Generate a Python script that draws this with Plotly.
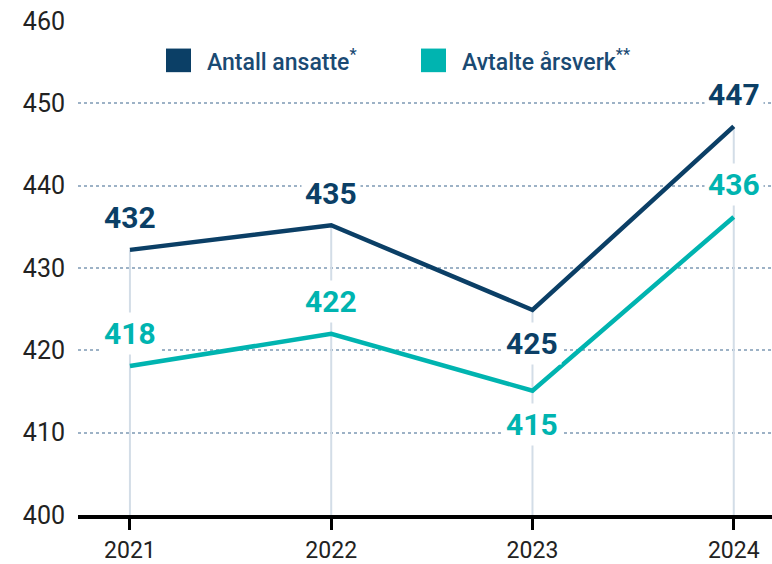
import plotly.graph_objects as go

years = ["2021", "2022", "2023", "2024"]
ansatte = [432.2, 435.2, 424.9, 447.2]
arsverk = [418.1, 422.0, 415.1, 436.2]
ansatte_labels = ["432", "435", "425", "447"]
arsverk_labels = ["418", "422", "415", "436"]
ansatte_pos = ["above", "above", "below", "above"]
arsverk_pos = ["above", "above", "below", "above"]
series_names = ["Antall ansatte<sup>*</sup>", "Avtalte årsverk<sup>**</sup>"]
y_ticks = [400, 410, 420, 430, 440, 450, 460]

NAVY = "#0b3f66"
TEAL = "#00b4b0"
FONT = "Roboto"

fig = go.Figure()

# vertical drop lines from the highest point to the base
dx, dy = [], []
for i, yr in enumerate(years):
    dx += [yr, yr, None]
    dy += [400, max(ansatte[i], arsverk[i]), None]
fig.add_trace(go.Scatter(x=dx, y=dy, mode="lines", line=dict(color="#d3dde7", width=2),
                         hoverinfo="skip", showlegend=False))

fig.add_trace(go.Scatter(x=years, y=ansatte, mode="lines", line=dict(color=NAVY, width=4.5),
                         name=series_names[0], showlegend=False))
fig.add_trace(go.Scatter(x=years, y=arsverk, mode="lines", line=dict(color=TEAL, width=4.5),
                         name=series_names[1], showlegend=False))

annotations = []
for vals, labels, pos, col in [(ansatte, ansatte_labels, ansatte_pos, NAVY),
                               (arsverk, arsverk_labels, arsverk_pos, TEAL)]:
    for i, (v, lab, p) in enumerate(zip(vals, labels, pos)):
        annotations.append(dict(
            x=i, y=v, xref="x", yref="y", text=f"<b>{lab}</b>", showarrow=False,
            yshift=32 if p == "above" else -34, xanchor="center", yanchor="middle",
            font=dict(family=FONT, size=30, color=col), bgcolor="white", borderpad=3))

# manual legend
L, W, T, H = 78, 694, 21, 502
def px_x(p):
    return (p - L) / W
def px_y(p):
    return (T + H - p) / H

shapes = []
legend_items = [(166, 205, NAVY, series_names[0]), (421, 460, TEAL, series_names[1])]
for sx, tx, col, name in legend_items:
    shapes.append(dict(type="rect", xref="paper", yref="paper",
                       x0=px_x(sx), x1=px_x(sx + 25), y0=px_y(73), y1=px_y(49),
                       fillcolor=col, line=dict(width=0)))
    annotations.append(dict(x=px_x(tx), y=px_y(61), xref="paper", yref="paper",
                            text=name, showarrow=False, xanchor="left", yanchor="middle",
                            font=dict(family=FONT, size=23, color="#1a4a73", weight=500)))

fig.update_layout(
    width=772, height=564,
    margin=dict(l=L, r=0, t=T, b=564 - T - H),
    plot_bgcolor="white", paper_bgcolor="white",
    showlegend=False,
    annotations=annotations, shapes=shapes,
    xaxis=dict(type="category", range=[-0.258, 3.19], showgrid=False,
               showline=True, linecolor="black", linewidth=4,
               ticks="outside", ticklen=11, tickwidth=3, tickcolor="black",
               tickfont=dict(family=FONT, size=23, color="#222"), fixedrange=True),
    yaxis=dict(range=[400, 460], tickvals=y_ticks, showgrid=True,
               gridcolor="#9db2c6", griddash="dot", gridwidth=1.5,
               zeroline=False, showline=False, ticks="", ticklabelstandoff=12,
               tickfont=dict(family=FONT, size=25, color="#222"), fixedrange=True),
)

fig.write_html("out.html", config={"displayModeBar": False},
               post_script="document.body.style.margin='0';document.body.style.overflow='hidden';")
